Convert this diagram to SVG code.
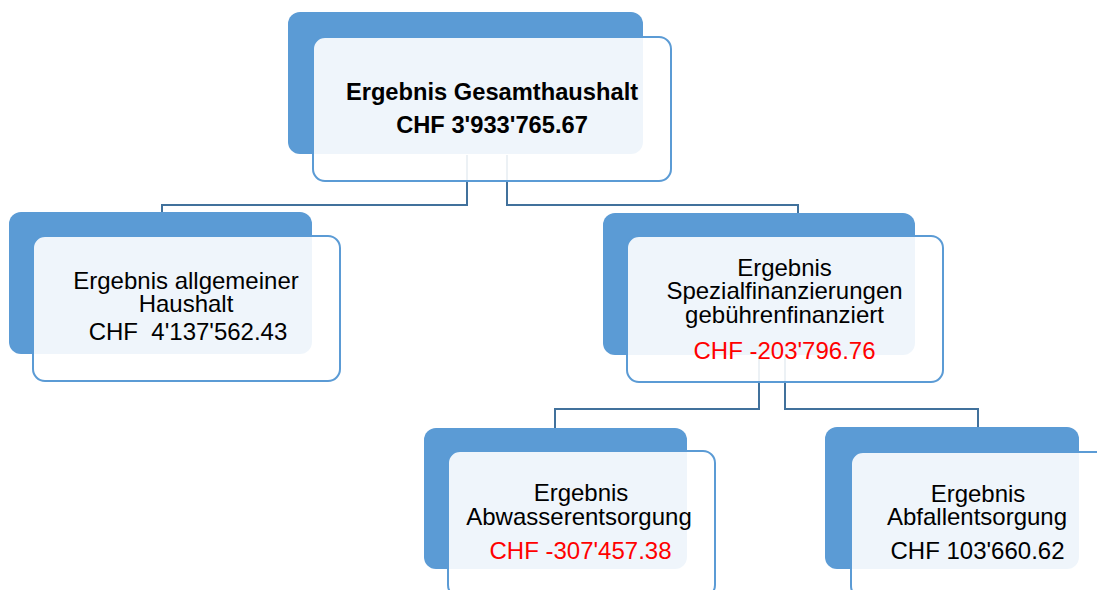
<svg xmlns="http://www.w3.org/2000/svg" width="1097" height="590" viewBox="0 0 1097 590">
<style>
.back{fill:#5b9bd5;}
.front{fill:#ffffff;fill-opacity:0.9;stroke:#5b9bd5;stroke-width:2;}
.conn{fill:none;stroke:#41719c;stroke-width:2;}
text{font-family:"Liberation Sans",Arial,sans-serif;font-size:24px;text-anchor:middle;fill:#000000;}
.b{font-weight:bold;font-size:23.7px;}
.red{fill:#ff0000;}
</style>
<rect width="1097" height="590" fill="#ffffff"/>
<g id="connectors">
<path class="conn" d="M467,155 V205 H162 V213"/>
<path class="conn" d="M507,155 V205 H798 V213"/>
<path class="conn" d="M759,356 V409 H555 V428"/>
<path class="conn" d="M785,356 V409 H978 V427"/>
</g>
<g id="node-gesamt">
<rect class="back" x="288" y="12" width="355" height="142" rx="12"/>
<rect class="front" x="313" y="37" width="358" height="144" rx="12"/>
<text class="b" x="492" y="100">Ergebnis Gesamthaushalt</text>
<text class="b" x="492" y="133">CHF 3'933'765.67</text>
</g>
<g id="node-allgemein">
<rect class="back" x="9" y="212" width="303" height="142" rx="12"/>
<rect class="front" x="33" y="236" width="307" height="145" rx="12"/>
<text x="186" y="289">Ergebnis allgemeiner</text>
<text x="186" y="312">Haushalt</text>
<text x="188" y="340" style="white-space:pre">CHF  4'137'562.43</text>
</g>
<g id="node-spezial">
<rect class="back" x="603" y="213" width="312" height="142" rx="12"/>
<rect class="front" x="627" y="236" width="316" height="146" rx="12"/>
<text x="784.5" y="276">Ergebnis</text>
<text x="784.5" y="299">Spezialfinanzierungen</text>
<text x="784.5" y="323">gebührenfinanziert</text>
<text class="red" x="784.5" y="359">CHF -203'796.76</text>
</g>
<g id="node-abwasser">
<rect class="back" x="424" y="428" width="263" height="141" rx="12"/>
<rect class="front" x="448" y="451" width="267" height="146" rx="12"/>
<text x="581" y="501">Ergebnis</text>
<text x="579" y="525">Abwasserentsorgung</text>
<text class="red" x="580.5" y="559">CHF -307'457.38</text>
</g>
<g id="node-abfall">
<rect class="back" x="825" y="427" width="254" height="142" rx="12"/>
<rect class="front" x="851" y="452" width="267" height="146" rx="12"/>
<text x="978" y="502">Ergebnis</text>
<text x="977" y="525">Abfallentsorgung</text>
<text x="977.5" y="559">CHF 103'660.62</text>
</g>
</svg>
